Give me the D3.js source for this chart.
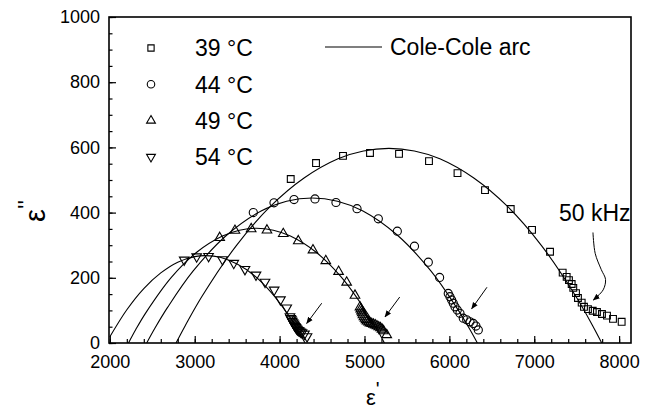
<!DOCTYPE html>
<html>
<head>
<meta charset="utf-8">
<script src="https://cdn.jsdelivr.net/npm/d3@7"></script>
<style>
  body { margin: 0; background: #fff; }
  svg { display: block; font-family: "Liberation Sans", Arial, sans-serif; }
  .axis text { font-size: 18px; fill: #000; }
  .axis line { stroke: #000; stroke-width: 1.2; }
  .axis path { display: none; }
</style>
</head>
<body>
<svg id="chart"></svg>
<script>
// Chart size params
var margin = {top: 17, right: 16, bottom: 70, left: 109};
var width = 647 - margin.left - margin.right;
var height = 413 - margin.top - margin.bottom;

// legend labels
var temps = ["39 \u00b0C", "44 \u00b0C", "49 \u00b0C", "54 \u00b0C"];

// measured points [eps', eps'']
var t39 = [[4131,503],[4429,552],[4747,574],[5065,583],[5407,580],[5760,558],[6096,521],[6420,469],
  [6723,411],[6974,347],[7186,280],[7335,216],[7382,203],[7409,193],[7441,181],[7460,169],[7492,153],
  [7515,138],[7559,124],[7586,111],[7633,104],[7689,99],[7739,95],[7798,89],[7857,84],[7928,74],[8030,65]];
var t44 = [[3690,400],[3934,430],[4170,440],[4417,442],[4664,431],[4912,412],[5163,381],[5387,343],
  [5589,297],[5752,248],[5885,201],[5987,152],[6007,142],[6027,132],[6046,122],[6066,111],[6093,101],
  [6125,91],[6164,76],[6204,71],[6243,65],[6282,60],[6313,52],[6341,40]];
var t49 = [[3294,323],[3474,345],[3665,350],[3851,346],[4043,335],[4220,313],[4393,285],[4544,252],
  [4695,219],[4790,186],[4888,146],[4947,110],[4956,104],[4965,98],[4974,92],[4982,86],[4994,80],
  [5006,75],[5018,71],[5030,67],[5048,64],[5065,61],[5086,59],[5106,57],[5127,55],[5147,52],
  [5168,49],[5189,46],[5207,42],[5224,37],[5262,25]];
var t54 = [[2876,255],[3023,265],[3163,266],[3327,256],[3460,245],[3592,226],[3722,209],[3828,187],
  [3936,163],[4010,133],[4084,108],[4122,81],[4131,76],[4140,72],[4149,67],[4158,63],[4167,59],
  [4175,55],[4184,51],[4193,48],[4202,44],[4211,41],[4222,39],[4234,37],[4249,34],[4264,32],
  [4293,28],[4323,20]];

// fitted Cole-Cole arcs
var arc39 = [[2780,0],[2888,53],[3088,144],[3488,298],[3888,418],[4288,506],[4688,565],[4988,589],
  [5288,597],[5588,589],[5888,565],[6288,506],[6688,418],[7088,298],[7488,144],[7688,53],[7795,0]];
var arc44 = [[2434,0],[2532,46],[2682,110],[2982,221],[3382,332],[3782,405],[4082,435],[4382,445],
  [4682,435],[4982,405],[5382,332],[5782,221],[6082,110],[6232,46],[6330,0]];
var arc49 = [[2220,0],[2307,42],[2427,94],[2727,202],[3027,279],[3327,328],[3527,346],[3727,352],
  [3927,346],[4127,328],[4427,279],[4727,202],[5027,94],[5147,42],[5235,0]];
var arc54 = [[2000,19],[2200,102],[2400,167],[2600,215],[2800,248],[3000,265],[3130,268],[3300,263],
  [3500,242],[3700,207],[3900,155],[4100,87],[4200,46],[4300,0]];

// annotation arrows
var arrows = [
  [[4496,122],[4319,60]],
  [[5415,141],[5242,80]],
  [[6443,171],[6263,105]]
];
var arrow50 = [[7692,339],[7718,275],[7790,225],[7840,195],[7812,163],[7696,132]];

var xTicks = [2000, 3000, 4000, 5000, 6000, 7000, 8000];
var yTicks = [0, 200, 400, 600, 800, 1000];

// d3 scales
var x = d3.scaleLinear().domain([1990, 8140]).range([0, width]);
var y = d3.scaleLinear().domain([0, 1000]).range([height, 0]);

var svg = d3.select("#chart")
    .attr("width", width + margin.left + margin.right)
    .attr("height", height + margin.top + margin.bottom)
  .append("g")
    .attr("transform", "translate(" + margin.left + "," + margin.top + ")");

var defs = svg.append("defs");
defs.append("clipPath").attr("id", "clip")
  .append("rect").attr("width", width).attr("height", height);

defs.append("marker")
    .attr("id", "head")
    .attr("viewBox", "0 0 10 10")
    .attr("refX", 9).attr("refY", 5)
    .attr("markerWidth", 7).attr("markerHeight", 7)
    .attr("markerUnits", "userSpaceOnUse")
    .attr("orient", "auto")
  .append("path")
    .attr("d", "M0,1L10,5L0,9Z")
    .attr("fill", "#000");

// minor ticks
svg.append("g").attr("class", "axis")
    .attr("transform", "translate(0," + height + ")")
    .call(d3.axisBottom(x).tickValues(d3.range(2000, 8001, 200)).tickSize(-4).tickFormat(""));
svg.append("g").attr("class", "axis")
    .call(d3.axisLeft(y).tickValues(d3.range(0, 1001, 50)).tickSize(-3.5).tickFormat(""));

// major ticks
svg.append("g").attr("class", "axis")
    .attr("transform", "translate(0," + height + ")")
    .call(d3.axisBottom(x).tickValues(xTicks).tickSize(-7).tickPadding(12).tickFormat(d3.format("d")));
svg.append("g").attr("class", "axis")
    .call(d3.axisLeft(y).tickValues(yTicks).tickSize(-7).tickPadding(9).tickFormat(d3.format("d")));

// frame
svg.append("rect")
    .attr("width", width)
    .attr("height", height)
    .attr("fill", "none")
    .attr("stroke", "#000")
    .attr("stroke-width", 1.6);

// arcs
var line = d3.line()
    .x(function(d) { return x(d[0]); })
    .y(function(d) { return y(d[1]); })
    .curve(d3.curveCatmullRom.alpha(0.5));

svg.append("g").attr("clip-path", "url(#clip)")
  .selectAll("path")
    .data([arc39, arc44, arc49, arc54])
  .enter().append("path")
    .attr("d", line)
    .attr("fill", "none")
    .attr("stroke", "#000")
    .attr("stroke-width", 1.1);

// markers
var series = [
  {pts: t39, type: d3.symbolSquare, size: 46, rot: 0},
  {pts: t44, type: d3.symbolCircle, size: 52, rot: 0},
  {pts: t49, type: d3.symbolTriangle, size: 40, rot: 0},
  {pts: t54, type: d3.symbolTriangle, size: 40, rot: 180}
];

series.forEach(function(s) {
  svg.append("g").selectAll("path")
      .data(s.pts)
    .enter().append("path")
      .attr("transform", function(d) { return "translate(" + x(d[0]) + "," + y(d[1]) + ")rotate(" + s.rot + ")"; })
      .attr("d", d3.symbol().type(s.type).size(s.size))
      .attr("fill", "none")
      .attr("stroke", "#000")
      .attr("stroke-width", 1.1);
});

// arrows
svg.selectAll(".arrow")
    .data(arrows.concat([arrow50]))
  .enter().append("path")
    .attr("class", "arrow")
    .attr("d", line)
    .attr("fill", "none")
    .attr("stroke", "#000")
    .attr("stroke-width", 1)
    .attr("marker-end", "url(#head)");

svg.append("text")
    .attr("x", x(7292))
    .attr("y", y(374))
    .attr("font-size", 23)
    .text("50 kHz");

// legend
var legend = svg.append("g").attr("transform", "translate(42,31)");
series.forEach(function(s, i) {
  legend.append("path")
      .attr("transform", "translate(0," + (i * 36.3) + ")rotate(" + s.rot + ")")
      .attr("d", d3.symbol().type(s.type).size(s.size * 0.85))
      .attr("fill", "none")
      .attr("stroke", "#000")
      .attr("stroke-width", 1.1);
  legend.append("text")
      .attr("x", 44)
      .attr("y", i * 36.3)
      .attr("dy", "0.36em")
      .attr("font-size", 23)
      .text(temps[i]);
});

var key = svg.append("g").attr("transform", "translate(216,30)");
key.append("line")
    .attr("x1", 0).attr("x2", 57)
    .attr("stroke", "#000").attr("stroke-width", 1.1);
key.append("text")
    .attr("x", 65)
    .attr("dy", "0.36em")
    .attr("font-size", 23)
    .text("Cole-Cole arc");

// axis titles
var xt = svg.append("text")
    .attr("x", width / 2 - 4)
    .attr("y", height + 62)
    .attr("font-size", 22);
xt.append("tspan").text("\u03b5");
xt.append("tspan").attr("dy", -9).attr("font-size", 20).text("'");

var yt = svg.append("text")
    .attr("transform", "translate(" + (-64) + "," + (height / 2 + 42) + ")rotate(-90)")
    .attr("font-size", 29);
yt.append("tspan").text("\u03b5");
yt.append("tspan").attr("dy", -10).attr("font-size", 24).text("''");
</script>
</body>
</html>
